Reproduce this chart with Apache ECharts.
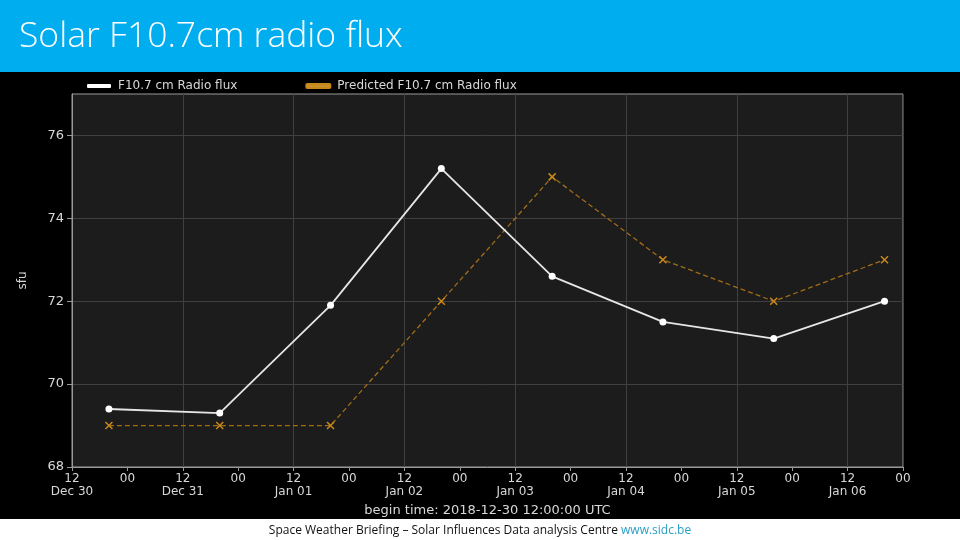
<!DOCTYPE html>
<html><head><meta charset="utf-8">
<script src="https://cdn.jsdelivr.net/npm/echarts@6/dist/echarts.min.js"></script>
<style>html,body{margin:0;padding:0;background:#000;}#c{width:960px;height:540px;}</style>
</head><body><div id="c"></div>
<script>
var beginTime = '2018-12-30T12:00:00Z';
var times = ['2018-12-30T20:00:00Z','2018-12-31T20:00:00Z','2019-01-01T20:00:00Z','2019-01-02T20:00:00Z','2019-01-03T20:00:00Z','2019-01-04T20:00:00Z','2019-01-05T20:00:00Z','2019-01-06T20:00:00Z'];
var observed = [69.4, 69.3, 71.9, 75.2, 72.6, 71.5, 71.1, 72.0];
var predicted = [69, 69, 69, 72, 75, 73, 72, 73];
var dayLabels = ['Dec 30','Dec 31','Jan 01','Jan 02','Jan 03','Jan 04','Jan 05','Jan 06'];
var yTicks = [68, 70, 72, 74, 76];

var t0 = Date.parse(beginTime);
function hrs(t){ return (Date.parse(t) - t0) / 3600000; }
var obsData = times.map(function(t,i){ return [hrs(t), observed[i]]; });
var predData = times.map(function(t,i){ return [hrs(t), predicted[i]]; });

var txt = '#d8d8d8';
var orange = '#a06c18';
var chart = echarts.init(document.getElementById('c'));
chart.setOption({
  backgroundColor: '#000',
  animation: false,
  graphic: [
    {type:'rect', shape:{x:0,y:0,width:960,height:72}, style:{fill:'#00adef'}},
    {type:'text', left:19, top:19, style:{text:'Solar F10.7cm radio flux', fill:'#fff', font:'300 35.5px "Open Sans"'}},
    {type:'rect', shape:{x:0,y:519,width:960,height:21}, style:{fill:'#fff'}},
    {type:'text', left:'center', top:525, style:{
      text:'{a|Space Weather Briefing – Solar Influences Data analysis Centre }{b|www.sidc.be}',
      rich:{a:{fill:'#111', font:'12px "Open Sans"'}, b:{fill:'#2a9fc9', font:'12px "Open Sans"'}}
    }}
  ],
  legend: {
    left: 82, top: 75, itemWidth: 24, itemHeight: 4, itemGap: 68, icon: 'roundRect',
    textStyle: {color: txt, fontSize: 12, fontFamily: 'DejaVu Sans', padding:[0,0,0,2]},
    data: [{name:'F10.7 cm Radio flux', itemStyle:{color:'#fff'}}, {name:'Predicted F10.7 cm Radio flux', itemStyle:{color:'#c8902a'}}]
  },
  grid: {left:72, right:57, top:94, bottom:73, show:true, backgroundColor:'#1c1c1c', borderColor:'#9a9a9a', borderWidth:1},
  xAxis: [
    {type:'value', min:0, max:180, interval:24, gridIndex:0,
      axisLine:{show:true, lineStyle:{color:'#9a9a9a'}}, axisTick:{show:false}, axisLabel:{show:false},
      splitLine:{show:true, lineStyle:{color:'#404040', width:1}}},
    {type:'value', min:0, max:180, interval:12, gridIndex:0, position:'bottom',
      name:'begin time: 2018-12-30 12:00:00 UTC', nameLocation:'middle', nameGap:37,
      nameTextStyle:{color:txt, fontSize:13, fontFamily:'DejaVu Sans'},
      axisLine:{show:false}, axisTick:{show:true, length:4, lineStyle:{color:'#9a9a9a'}},
      splitLine:{show:false},
      axisLabel:{color:txt, fontSize:12, fontFamily:'DejaVu Sans', margin:5, lineHeight:13,
        formatter:function(v){ if (v % 24 === 0) { return '12\n' + dayLabels[v/24] ; } return '00'; }}}
  ],
  yAxis: [
    {type:'value', min:68, max:77, interval:1,
      name:'sfu', nameLocation:'middle', nameGap:43, nameRotate:90,
      nameTextStyle:{color:txt, fontSize:12, fontFamily:'DejaVu Sans'},
      axisLine:{show:true, lineStyle:{color:'#9a9a9a'}},
      axisTick:{show:true, length:5, customValues: yTicks, lineStyle:{color:'#9a9a9a'}},
      axisLabel:{color:txt, fontSize:13, fontFamily:'DejaVu Sans', margin:8, customValues: yTicks},
      splitLine:{show:true, lineStyle:{color:'#404040', width:1}}}
  ],
  series: [
    {name:'F10.7 cm Radio flux', type:'line', xAxisIndex:1, data:obsData,
      symbol:'circle', symbolSize:7, showAllSymbol:true,
      lineStyle:{color:'#e6e6e6', width:1.8}, itemStyle:{color:'#fff', borderWidth:0}, z:3},
    {name:'Predicted F10.7 cm Radio flux', type:'line', xAxisIndex:1, data:predData,
      symbol:'path://M0,0L10,10M10,0L0,10', symbolSize:7, showAllSymbol:true,
      lineStyle:{color:orange, width:1.3, type:[5,3]},
      itemStyle:{color:'none', borderColor:'#c8891a', borderWidth:1.5}, z:2}
  ]
});
</script></body></html>
